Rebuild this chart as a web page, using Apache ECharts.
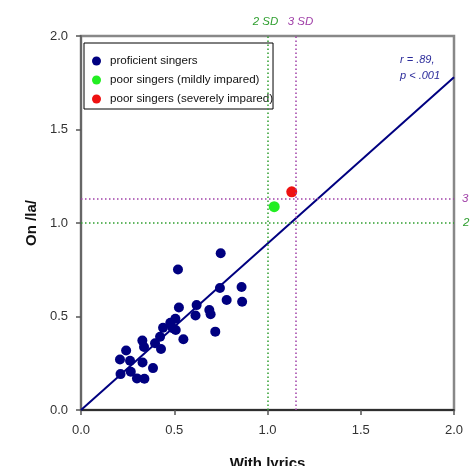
<!DOCTYPE html>
<html>
<head>
<meta charset="utf-8">
<script src="https://cdn.jsdelivr.net/npm/echarts@6/dist/echarts.min.js"></script>
<style>
  html, body { margin: 0; padding: 0; background: #fff; }
  #chart { width: 470px; height: 466px; }
</style>
</head>
<body>
<div id="chart"></div>
<script>
// proficient singers: [with lyrics, on /la/]
const proficient = [
  [0.749, 0.838], [0.520, 0.751], [0.745, 0.652], [0.861, 0.658],
  [0.781, 0.588], [0.864, 0.579], [0.620, 0.561], [0.525, 0.548],
  [0.688, 0.535], [0.695, 0.512], [0.614, 0.505], [0.506, 0.488],
  [0.479, 0.466], [0.720, 0.419], [0.440, 0.440], [0.508, 0.428],
  [0.492, 0.437], [0.549, 0.378], [0.424, 0.392], [0.397, 0.357],
  [0.429, 0.326], [0.329, 0.371], [0.338, 0.337], [0.242, 0.318],
  [0.209, 0.270], [0.263, 0.263], [0.330, 0.254], [0.386, 0.224],
  [0.267, 0.205], [0.212, 0.192], [0.300, 0.169], [0.340, 0.167]
];
const mildlyImpaired = [[1.036, 1.087]];
const severelyImpaired = [[1.130, 1.167]];

const fitX = [0, 2.0];
const fitY = [0, 1.78];

const sd2 = { x: 1.0, y: 1.0 };
const sd3 = { x: 1.15, y: 1.13 };

const seriesNames = [
  'proficient singers',
  'poor singers (mildly impared)',
  'poor singers (severely impared)'
];

const green = '#2f9f2f';
const purple = '#a040a8';
const navy = '#000080';
const font = 'Arial, "Liberation Sans", sans-serif';

const chart = echarts.init(document.getElementById('chart'));

const sdLabel = (text, color, offset) => ({
  show: true,
  position: 'end',
  formatter: text,
  color: color,
  fontStyle: 'italic',
  fontSize: 11.5,
  fontFamily: font,
  distance: 8,
  offset: offset
});
const dotted = color => ({ color: color, type: [1.5, 2.5], width: 1.5 });

const option = {
  animation: false,
  grid: {
    left: 81, top: 36, right: 16, bottom: 56,
    outerBoundsMode: 'none',
    containLabel: false,
    show: true,
    borderColor: '#888',
    borderWidth: 2.5
  },
  legend: {
    data: seriesNames,
    left: 84,
    top: 43,
    orient: 'vertical',
    icon: 'circle',
    itemWidth: 9,
    itemHeight: 9,
    itemGap: 5,
    padding: [11, 0, 3, 8],
    borderColor: '#000',
    borderWidth: 1,
    backgroundColor: '#fff',
    textStyle: { fontSize: 11.6, fontFamily: font, color: '#111', lineHeight: 14, padding: [0, 0, 0, 4] }
  },
  xAxis: {
    type: 'value',
    min: 0, max: 2.0, interval: 0.5,
    name: 'With lyrics',
    nameLocation: 'middle',
    nameGap: 46,
    nameTextStyle: { fontSize: 15, fontWeight: 'bold', fontFamily: font, color: '#111' },
    axisLine: { show: true, lineStyle: { color: '#111', width: 1.5 } },
    axisTick: { show: true, length: 5, lineStyle: { color: '#555', width: 1.5 } },
    axisLabel: {
      fontSize: 13, fontFamily: font, color: '#333', margin: 14,
      formatter: v => v.toFixed(1)
    },
    splitLine: { show: false }
  },
  yAxis: {
    type: 'value',
    min: 0, max: 2.0, interval: 0.5,
    name: 'On /la/',
    nameLocation: 'middle',
    nameGap: 41,
    nameTextStyle: { fontSize: 15, fontWeight: 'bold', fontFamily: font, color: '#111' },
    axisLine: { show: true, lineStyle: { color: '#666', width: 2 } },
    axisTick: { show: true, length: 5, lineStyle: { color: '#555', width: 1.5 } },
    axisLabel: {
      fontSize: 13, fontFamily: font, color: '#333', margin: 13,
      formatter: v => v.toFixed(1)
    },
    splitLine: { show: false }
  },
  graphic: [{
    type: 'text',
    left: 400,
    top: 52,
    style: {
      text: 'r = .89,\np < .001',
      fontSize: 11,
      fontStyle: 'italic',
      fontFamily: font,
      fill: '#2a2a9a',
      lineHeight: 16
    }
  }],
  series: [
    {
      name: 'fit',
      type: 'line',
      data: fitX.map((x, i) => [x, fitY[i]]),
      symbol: 'none',
      lineStyle: { color: navy, width: 2 },
      z: 2,
      markLine: {
        silent: true,
        symbol: ['none', 'none'],
        data: [
          { xAxis: sd2.x, lineStyle: dotted(green), label: sdLabel('2 SD', green, [-2, 0]) },
          { xAxis: sd3.x, lineStyle: dotted(purple), label: sdLabel('3 SD', purple, [5, 0]) },
          { yAxis: sd2.y, lineStyle: dotted(green), label: sdLabel('2 SD', green, [1, 0]) },
          { yAxis: sd3.y, lineStyle: dotted(purple), label: sdLabel('3 SD', purple, [0, 0]) }
        ]
      }
    },
    {
      name: seriesNames[0],
      type: 'scatter',
      data: proficient,
      symbolSize: 10,
      itemStyle: { color: navy, opacity: 1 },
      z: 3
    },
    {
      name: seriesNames[1],
      type: 'scatter',
      data: mildlyImpaired,
      symbolSize: 11,
      itemStyle: { color: '#22ee22', opacity: 1 },
      z: 3
    },
    {
      name: seriesNames[2],
      type: 'scatter',
      data: severelyImpaired,
      symbolSize: 11,
      itemStyle: { color: '#ee1111', opacity: 1 },
      z: 3
    }
  ]
};

chart.setOption(option);
</script>
</body>
</html>
